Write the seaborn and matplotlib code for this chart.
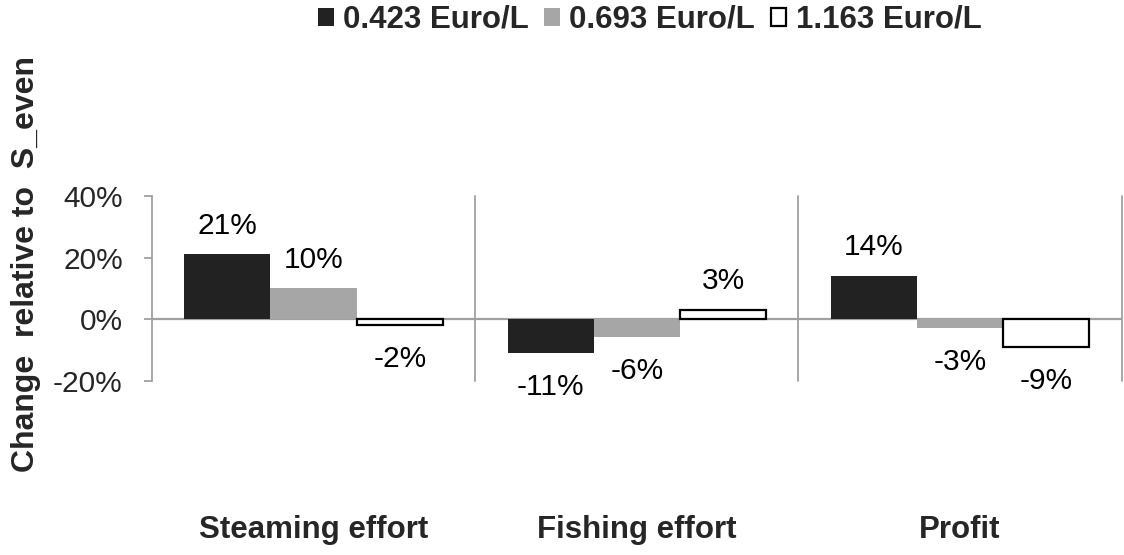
import matplotlib
matplotlib.use("Agg")
import matplotlib.pyplot as plt
import seaborn as sns
import pandas as pd

# chart data
categories = ["Steaming effort", "Fishing effort", "Profit"]
series = ["0.423 Euro/L", "0.693 Euro/L", "1.163 Euro/L"]
low_price = [0.21, -0.11, 0.14]
mid_price = [0.10, -0.06, -0.03]
high_price = [-0.02, 0.03, -0.09]
y_ticks = [-0.2, 0.0, 0.2, 0.4]

colors = ["#222222", "#a6a6a6", "#ffffff"]
edge_colors = ["#222222", "#a6a6a6", "#000000"]

rows = []
for name, vals in zip(series, [low_price, mid_price, high_price]):
    for cat, v in zip(categories, vals):
        rows.append({"category": cat, "series": name, "value": v})
df = pd.DataFrame(rows)

sns.set_style("white")
plt.rcParams["font.family"] = ["Liberation Sans", "DejaVu Sans"]

fig = plt.figure(figsize=(11.24, 5.55), dpi=100)
ax = fig.add_axes([0.1352, 0.3144, 0.8628, 0.3324])

sns.barplot(data=df, x="category", y="value", hue="series", order=categories,
            hue_order=series, palette=colors, width=0.8, saturation=1,
            legend=False, ax=ax, zorder=3)

# bar edges and value labels (Excel style "outside end")
for cont, ec in zip(ax.containers, edge_colors):
    for bar in cont:
        bar.set_edgecolor(ec)
        bar.set_linewidth(1.6 if ec == "#000000" else 0)
        h = bar.get_height()
        xc = bar.get_x() + bar.get_width() / 2
        off = 20.5 if h >= 0 else -24.5
        ax.annotate(f"{round(h * 100):.0f}%", (xc, h), xytext=(0, off),
                    textcoords="offset points", ha="center", va="center",
                    fontsize=21.5, color="black", annotation_clip=False)

ax.set_ylim(-0.2, 0.4)
ax.set_xlim(-0.5, 2.5)
ax.set_yticks(y_ticks)
ax.set_yticklabels([f"{t * 100:.0f}%" for t in y_ticks], fontsize=21.5)
ax.set_xticks(range(len(categories)))
ax.set_xticklabels(categories, fontsize=22.5, fontweight="bold")
ax.tick_params(axis="x", length=0, pad=97)
ax.tick_params(axis="y", length=6, width=1.3, color="#a0a0a0", pad=15, direction="out",
               left=True)
ax.set_xlabel("")
ax.set_ylabel("")

# separators between categories and zero line
for xb in [0.5, 1.5, 2.5]:
    ax.axvline(xb, color="#a0a0a0", lw=1.3, zorder=1, clip_on=False)
ax.axhline(0, color="#a0a0a0", lw=1.6, zorder=2)

for side in ["top", "right", "bottom"]:
    ax.spines[side].set_visible(False)
ax.spines["left"].set_color("#a0a0a0")
ax.spines["left"].set_linewidth(1.3)

fig.text(0.023, 0.525, "Change  relative to  S_even", rotation=90, ha="center",
         va="center", fontsize=23, fontweight="bold")

ax.legend(ax.containers, series, loc="center", bbox_to_anchor=(0.578, 0.964),
          bbox_transform=fig.transFigure, ncol=3, frameon=False,
          handlelength=0.5, handleheight=0.5, handletextpad=0.3,
          columnspacing=0.5, prop={"size": 22.5, "weight": "bold"})

fig.savefig("out.png", dpi=100)
